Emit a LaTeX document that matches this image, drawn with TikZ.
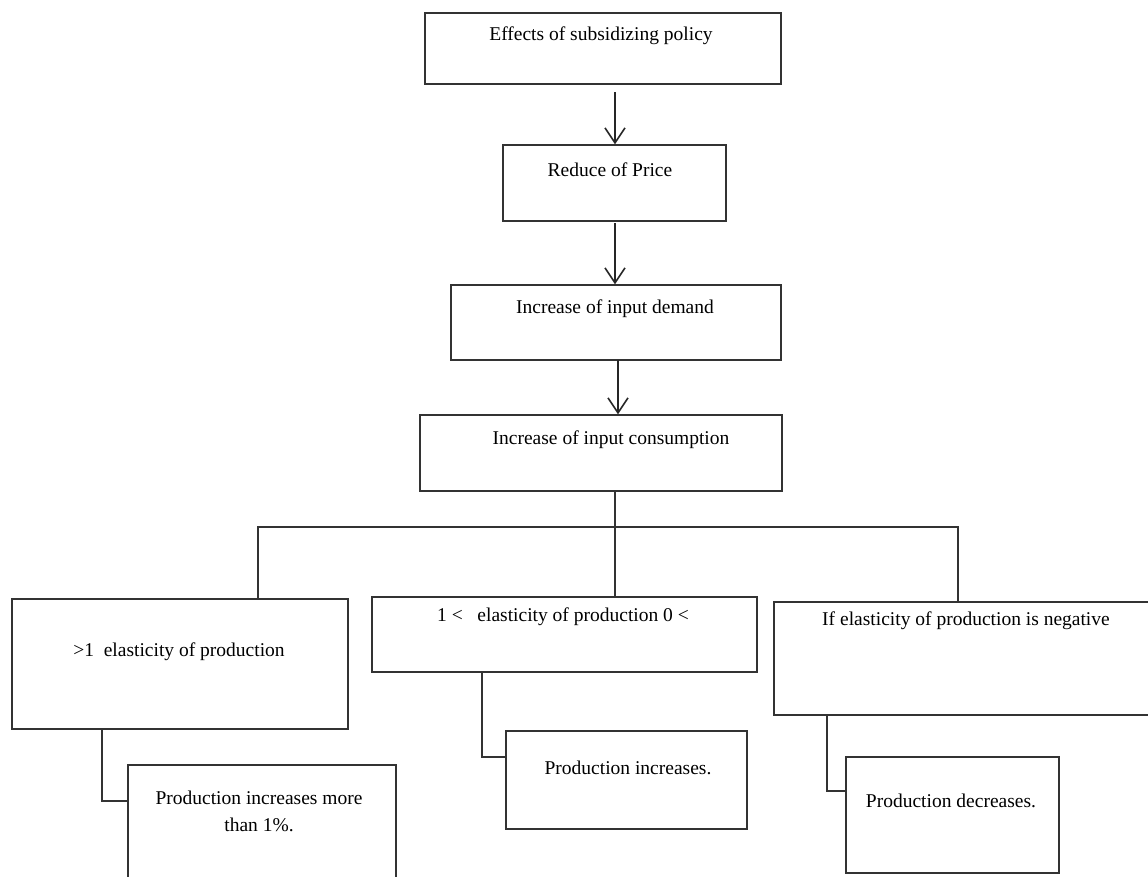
\documentclass[tikz,border=0pt]{standalone}
\usepackage{fontspec}
\setmainfont{Liberation Serif}
\usetikzlibrary{arrows.meta}
\definecolor{linegray}{HTML}{333333}
\tikzset{
  box/.style={draw=linegray, line width=1.4pt, rectangle, inner sep=0pt, fill=none},
  txt/.style={inner sep=0pt, font=\fontsize{19.5}{27}\selectfont, text=black, align=center},
  conn/.style={draw=linegray, line width=1.4pt},
  arr/.style={draw=black!85, line width=1.6pt, -{Straight Barb[length=15pt,width=20pt,line width=1.6pt]}}
}
\begin{document}
\begin{tikzpicture}[x=1pt,y=-1pt]
\useasboundingbox (0,0) rectangle (1148,876);
\clip (0,0) rectangle (1148,876);
\fill[white] (0,0) rectangle (1148,876);
% boxes
\node[box, minimum width=356pt, minimum height=71pt] (b1) at (603,48.5) {};
\node[box, minimum width=223pt, minimum height=76pt] (b2) at (614.5,183) {};
\node[box, minimum width=330pt, minimum height=75pt] (b3) at (616,322.5) {};
\node[box, minimum width=362pt, minimum height=76pt] (b4) at (601,453) {};
\node[box, minimum width=336pt, minimum height=130pt] (bl) at (180,664) {};
\node[box, minimum width=385pt, minimum height=75pt] (bm) at (564.5,634.5) {};
\node[box, minimum width=386pt, minimum height=113pt] (br) at (967,658.5) {};
\node[box, minimum width=268pt, minimum height=125pt] (sl) at (262,827.5) {};
\node[box, minimum width=241pt, minimum height=98pt] (sm) at (626.5,780) {};
\node[box, minimum width=213pt, minimum height=116pt] (sr) at (952.5,815) {};
% texts
\node[txt] (t1) at (601,36) {Effects of subsidizing policy};
\node[txt] (t2) at (610,170) {Reduce of Price};
\node[txt] (t3) at (615,309) {Increase of input demand};
\node[txt] (t4) at (611,440) {Increase of input consumption};
\node[txt] (tl) at (179,652) {>1\ \ elasticity of production};
\node[txt] (tm) at (563,617) {1 <\ \ \ elasticity of production 0 <};
\node[txt] (tr) at (966,621) {If elasticity of production is negative};
\node[txt] (tsl) at (259,811) {Production increases more\\than 1\%.};
\node[txt] (tsm) at (628,768) {Production increases.};
\node[txt] (tsr) at (951,801) {Production decreases.};
% arrows
\coordinate (a1) at (615,92);
\coordinate (a2) at (615,223);
\coordinate (a3) at (618,360);
\draw[arr] (a1) -- (a1 |- b2.north);
\draw[arr] (a2) -- (a2 |- b3.north);
\draw[arr] (a3) -- (a3 |- b4.north);
% branch connectors
\coordinate (j) at (615,527);
\coordinate (jl) at (258,527);
\coordinate (jr) at (958,527);
\draw[conn] (b4.south -| j) -- (bm.north -| j);
\draw[conn] (bl.north -| jl) -- (jl) -- (jr) -- (br.north -| jr);
% sub connectors
\coordinate (kl) at (102,801);
\coordinate (km) at (482,757);
\coordinate (kr) at (827,791);
\draw[conn] (bl.south -| kl) -- (kl) -- (kl -| sl.west);
\draw[conn] (bm.south -| km) -- (km) -- (km -| sm.west);
\draw[conn] (br.south -| kr) -- (kr) -- (kr -| sr.west);
\end{tikzpicture}
\end{document}
